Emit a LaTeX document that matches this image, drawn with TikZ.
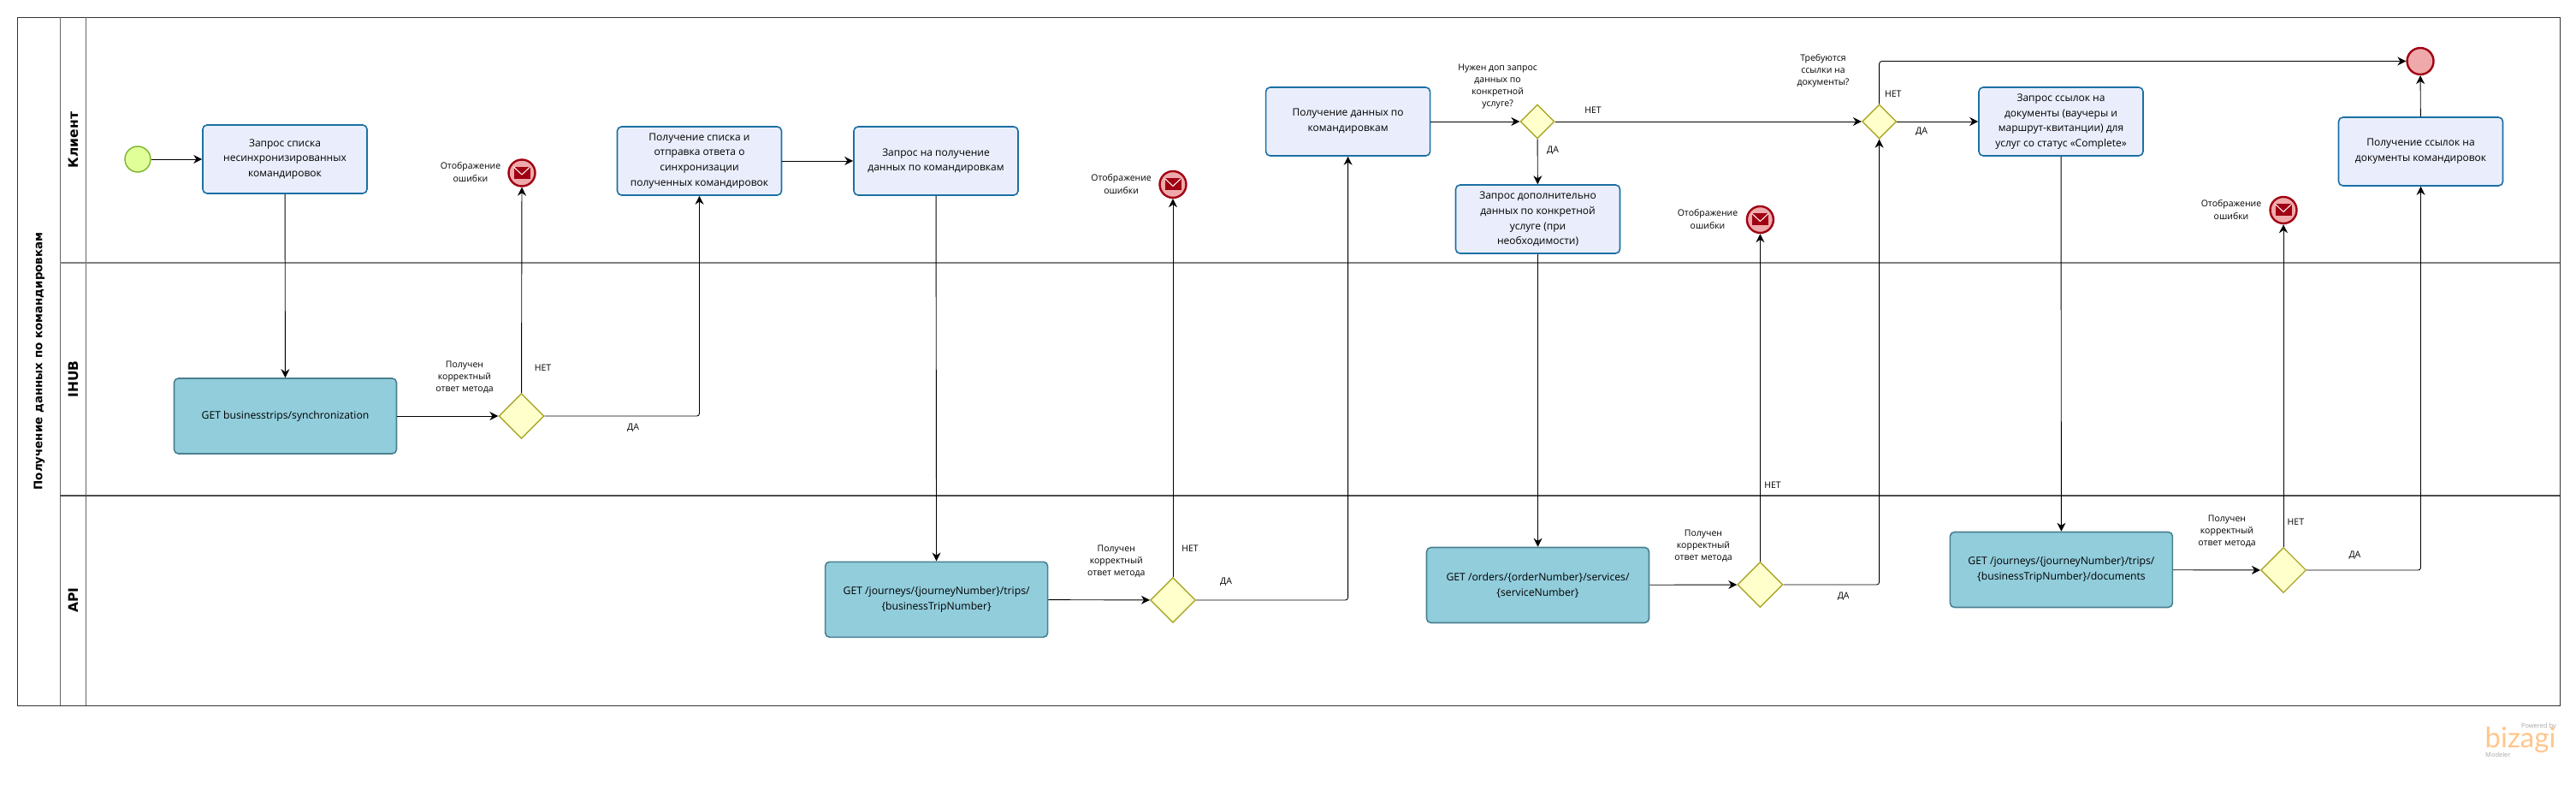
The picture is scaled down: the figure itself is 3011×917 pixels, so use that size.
\documentclass[tikz,border=0pt]{standalone}
\usepackage{fontspec}
\setmainfont{Open Sans}
\newfontfamily\headfont{DejaVu Sans}
\newfontfamily\logofont{Lato}
\usetikzlibrary{shapes.geometric, arrows.meta}
\definecolor{tkfill}{HTML}{EAEEFC}
\definecolor{tkline}{HTML}{1B6FA3}
\definecolor{apfill}{HTML}{92CDDC}
\definecolor{apline}{HTML}{4A8090}
\definecolor{gwfill}{HTML}{FFFFCC}
\definecolor{gwline}{HTML}{A9A72A}
\definecolor{befill}{HTML}{E0FF99}
\definecolor{beline}{HTML}{7AB52A}
\definecolor{eefill}{HTML}{EFA9AB}
\definecolor{eeline}{HTML}{A00012}
\tikzset{tk/.style = {rounded corners=5pt, line width=1.6pt, draw=tkline, fill=tkfill, minimum width=192pt, minimum height=80pt, inner sep=0pt, align=center, font=\fontsize{12}{17.8}\selectfont},
           ap/.style = {rounded corners=5pt, line width=1.6pt, draw=apline, fill=apfill, minimum width=260pt, minimum height=88pt, inner sep=0pt, align=center, font=\fontsize{12.2}{17.8}\selectfont},
           gw/.style = {diamond, aspect=1, line width=1.4pt, draw=gwline, fill=gwfill, minimum width=53pt, minimum height=53pt, inner sep=0pt},
           gs/.style = {gw, minimum width=40pt, minimum height=40pt},
           be/.style = {circle, line width=1.4pt, draw=beline, fill=befill, minimum size=30pt, inner sep=0pt},
           ee/.style = {circle, line width=2.4pt, draw=eeline, fill=eefill, minimum size=31pt, inner sep=0pt},
           er/.style = {ee, path picture={
               \fill[eeline] ([shift={(-9.5,-7)}]path picture bounding box.center) rectangle ([shift={(9.5,7)}]path picture bounding box.center);
               \draw[white, line width=1pt] ([shift={(-9.5,-7)}]path picture bounding box.center) -- ([shift={(0,2)}]path picture bounding box.center) -- ([shift={(9.5,-7)}]path picture bounding box.center);}},
           lb/.style = {inner sep=0pt, align=center, font=\fontsize{10.5}{14.2}\selectfont},
           hd/.style = {inner sep=0pt, rotate=90, font=\headfont\bfseries\fontsize{13.4}{15}\selectfont},
           hl/.style = {hd, font=\headfont\bfseries\fontsize{15.5}{17}\selectfont}}

\begin{document}
\begin{tikzpicture}[x=1pt, y=-1pt, >={Stealth[length=10pt, width=10pt]}]
    \useasboundingbox (0,0) rectangle (3011,917);
    % pool and lanes
    \draw[line width=1pt, draw=black!80] (20,20.5) rectangle (2992,824);
    \draw[line width=0.7pt, draw=black!60] (70,20.5) -- (70,824);
    \draw[line width=0.7pt, draw=black!60] (100,20.5) -- (100,824);
    \draw[line width=1.8pt, draw=black!50] (70,307) -- (2992,307);
    \draw[line width=1.2pt, draw=black!70] (70,579) -- (2992,579);
    \node[hd] (pool) at (46,422) {Получение данных по командировкам};
    \node[hl] (lna) at (85.5,163.5) {Клиент};
    \node[hl] (lnb) at (85.5,443) {IHUB};
    \node[hl] (lnc) at (85.5,701) {API};

    \node[be] (s) at (161,186) {};
    \node[tk] (ta) at (333,186) {Запрос списка\\несинхронизированных\\командировок};
    \node[tk] (tb) at (817.5,188) {Получение списка и\\отправка ответа о\\синхронизации\\полученных командировок};
    \node[tk] (tc) at (1094,188) {Запрос на получение\\данных по командировкам};
    \node[tk] (td) at (1575.6,142) {Получение данных по\\командировкам};
    \node[tk] (te) at (1797.5,256) {Запрос дополнительно\\данных по конкретной\\услуге (при\\необходимости)};
    \node[tk] (tf) at (2409,142) {Запрос ссылок на\\документы (ваучеры и\\маршрут-квитанции) для\\услуг со статус «Complete»};
    \node[tk] (tg) at (2829.5,177) {Получение ссылок на\\документы командировок};
    \node[ap] (ma) at (333.5,486) {GET businesstrips/synchronization};
    \node[ap] (mb) at (1094.6,700.3) {GET /journeys/\{journeyNumber\}/trips/\\\{businessTripNumber\}};
    \node[ap] (mc) at (1797.5,683.5) {GET /orders/\{orderNumber\}/services/\\\{serviceNumber\}};
    \node[ap] (md) at (2409.4,665.5) {GET /journeys/\{journeyNumber\}/trips/\\\{businessTripNumber\}/documents};

    \node[gw] (ga) at (609.5,486) {}; \node[gw] (gb) at (1371,701) {};
    \node[gw] (gc) at (2057.4,683) {}; \node[gw] (gd) at (2669,666) {};
    \node[gs] (ge) at (1797,142) {}; \node[gs] (gf) at (2196.6,142) {};

    \node[er] (ea) at (610,202) {}; \node[er] (eb) at (1371,215.5) {};
    \node[er] (ec) at (2057.4,256.5) {}; \node[er] (ed) at (2669,245.5) {};
    \node[ee] (t) at (2829,71.5) {};

    \node[lb] (la) at (550,201) {Отображение\\ошибки};
    \node[lb] (lb) at (1310.6,215) {Отображение\\ошибки};
    \node[lb] (lc) at (1996,256) {Отображение\\ошибки};
    \node[lb] (ld) at (2608,245) {Отображение\\ошибки};
    \node[lb] (le) at (543,441) {Получен\\корректный\\ответ метода};
    \node[lb] (lf) at (1304.8,655.7) {Получен\\корректный\\ответ метода};
    \node[lb] (lg) at (1991,637.7) {Получен\\корректный\\ответ метода};
    \node[lb] (lh) at (2603,620.7) {Получен\\корректный\\ответ метода};
    \node[lb] (li) at (1750.6,101) {Нужен доп запрос\\данных по\\конкретной\\услуге?};
    \node[lb] (lj) at (2131,82.5) {Требуются\\ссылки на\\документы?};

    \node[lb] (na) at (634.5,430) {НЕТ}; \node[lb] (ya) at (740,500) {ДА};
    \node[lb] (nb) at (1391,641) {НЕТ}; \node[lb] (yb) at (1433,679.3) {ДА};
    \node[lb] (nc) at (2072,567) {НЕТ}; \node[lb] (yc) at (2154.7,696.3) {ДА};
    \node[lb] (nd) at (2683.4,610) {НЕТ}; \node[lb] (yd) at (2752.4,648.7) {ДА};
    \node[lb] (ne) at (1862,129) {НЕТ}; \node[lb] (ye) at (1815,175.5) {ДА};
    \node[lb] (nf) at (2212.8,110) {НЕТ}; \node[lb] (yf) at (2246,153.4) {ДА};

    \begin{scope}[line width=0.9pt, rounded corners=3pt]
    \draw[->] (s) to (ta);
    \draw[->] (ta) to (ma);
    \draw[->] (ma) to (ga);
    \draw[->] (ga) to (ea);
    \draw[->] (ga) -| (tb);
    \draw[->] (tb) to (tc);
    \draw[->] (tc) to (mb);
    \draw[->] (mb) to (gb);
    \draw[->] (gb) to (eb);
    \draw[->] (gb) -| (td);
    \draw[->] (td) to (ge);
    \draw[->] (ge) to (te);
    \draw[->] (ge) to (gf);
    \draw[->] (te) to (mc);
    \draw[->] (mc) to (gc);
    \draw[->] (gc) to (ec);
    \draw[->] (gc) -| (gf);
    \draw[->] (gf) |- (t);
    \draw[->] (gf) to (tf);
    \draw[->] (tf) to (md);
    \draw[->] (md) to (gd);
    \draw[->] (gd) to (ed);
    \draw[->] (gd) -| (tg);
    \draw[->] (tg) to (t);
    \end{scope}

    \node[inner sep=0pt, anchor=east, text=black!35, font=\fontsize{7.5}{9}\selectfont] (pw) at (2988,849) {Powered by};
    \node[inner sep=0pt, text=orange!45, font=\logofont\fontsize{33}{33}\selectfont] (bz) at (2946,864) {bizagi};
    \node[inner sep=0pt, anchor=west, text=black!35, font=\fontsize{7.5}{9}\selectfont] (mo) at (2905,881.5) {Modeler};
\end{tikzpicture}
\end{document}
